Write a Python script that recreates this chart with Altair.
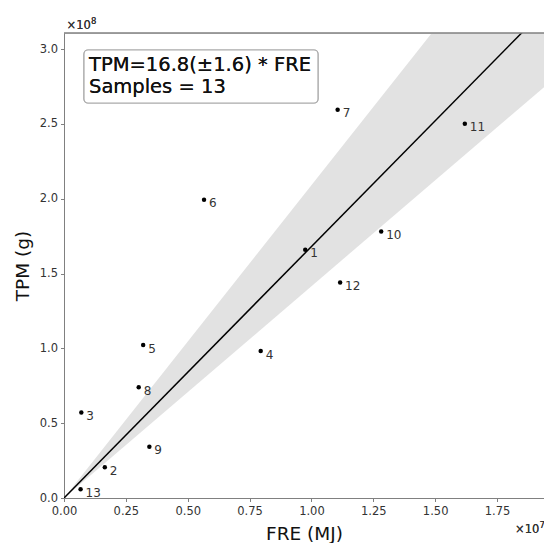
import altair as alt
import pandas as pd

# ---- data ----
sample_id = ["1", "2", "3", "4", "5", "6", "7", "8", "9", "10", "11", "12", "13"]
fre_mj = [9.75e6, 1.65e6, 0.70e6, 7.95e6, 3.20e6, 5.66e6, 11.06e6, 3.02e6, 3.45e6,
          12.82e6, 16.20e6, 11.16e6, 0.67e6]
tpm_g = [1.658e8, 0.206e8, 0.572e8, 0.982e8, 1.022e8, 1.993e8, 2.594e8, 0.740e8,
         0.343e8, 1.781e8, 2.500e8, 1.440e8, 0.058e8]

fit_slope = 16.8      # TPM = 16.8 * FRE
band_low = 14.15      # lower edge of shaded band (slope)
band_high = 20.9      # upper edge of shaded band (slope)
n_samples = 13

x_max = 1.94e7
y_max = 3.107e8
x_ticks = [0, 0.25e7, 0.5e7, 0.75e7, 1.0e7, 1.25e7, 1.5e7, 1.75e7]
y_ticks = [0, 0.5e8, 1.0e8, 1.5e8, 2.0e8, 2.5e8, 3.0e8]

FONT = "DejaVu Sans"
W, H = 480, 465

pts = pd.DataFrame({"FRE": fre_mj, "TPM": tpm_g, "id": sample_id})
fit_x = [0.0, x_max]
fit = pd.DataFrame({
    "FRE": fit_x,
    "TPM": [fit_slope * v for v in fit_x],
    "lo": [band_low * v for v in fit_x],
    "hi": [band_high * v for v in fit_x],
})

xscale = alt.Scale(domain=[0, x_max], nice=False, zero=False)
yscale = alt.Scale(domain=[0, y_max], nice=False, zero=False)

xaxis = alt.Axis(values=x_ticks, labelExpr="format(datum.value/1e7, '.2f')",
                 title="FRE (MJ)", titleFontSize=18.5, titleFont=FONT, titleFontWeight="normal",
                 titleColor="#111", titleY=41, titleBaseline="alphabetic",
                 labelFont=FONT, labelFontSize=11.5, labelColor="#333", labelPadding=4,
                 tickSize=3.5, tickColor="#808080", domainColor="#808080", grid=False,
                 labelFlush=False, labelOverlap=False)
yaxis = alt.Axis(values=y_ticks, labelExpr="format(datum.value/1e8, '.1f')",
                 title="TPM (g)", titleFontSize=18.5, titleFont=FONT, titleFontWeight="normal",
                 titleColor="#111", titleX=-36, titleY=H / 2, titleAngle=-90,
                 titleAlign="center", titleBaseline="alphabetic",
                 labelFont=FONT, labelFontSize=11.5, labelColor="#333", labelPadding=3,
                 tickSize=3.5, tickColor="#808080", domainColor="#808080", grid=False,
                 labelFlush=False, labelOverlap=False)

band = alt.Chart(fit).mark_area(color="#e2e2e2", opacity=1, clip=True).encode(
    x=alt.X("FRE:Q", scale=xscale, axis=xaxis),
    y=alt.Y("lo:Q", scale=yscale, axis=yaxis),
    y2="hi:Q",
)
line = alt.Chart(fit).mark_line(color="black", strokeWidth=1.5, clip=True).encode(
    x=alt.X("FRE:Q", scale=xscale),
    y=alt.Y("TPM:Q", scale=yscale),
)
dots = alt.Chart(pts).mark_circle(color="black", size=20, opacity=1).encode(
    x=alt.X("FRE:Q", scale=xscale),
    y=alt.Y("TPM:Q", scale=yscale),
)
labels = alt.Chart(pts).mark_text(align="left", baseline="alphabetic", dx=5, dy=7.5,
                                  font=FONT, fontSize=12, color="#333").encode(
    x=alt.X("FRE:Q", scale=xscale),
    y=alt.Y("TPM:Q", scale=yscale),
    text="id:N",
)

# top spine (right spine falls outside the window)
top_spine = alt.Chart(fit).mark_rule(color="#808080", strokeWidth=1).encode(
    x=alt.value(0), x2=alt.value(W), y=alt.value(0)
)

# annotation box
box = alt.Chart(fit).mark_rect(fill="white", stroke="#aaaaaa", strokeWidth=1.2,
                               cornerRadius=4).encode(
    x=alt.value(20), x2=alt.value(254), y=alt.value(17), y2=alt.value(70)
)
box_l1 = alt.Chart(fit).mark_text(align="left", baseline="alphabetic", font=FONT,
                                  fontSize=19.5, color="#111",
                                  text=f"TPM={fit_slope}(\u00b11.6) * FRE").encode(
    x=alt.value(25), y=alt.value(38)
)
box_l2 = alt.Chart(fit).mark_text(align="left", baseline="alphabetic", font=FONT,
                                  fontSize=19.5, color="#111",
                                  text=f"Samples = {n_samples}").encode(
    x=alt.value(25), y=alt.value(60)
)


def offset_text(x, y, exp):
    base = alt.Chart(fit).mark_text(align="left", baseline="alphabetic", font=FONT,
                                    fontSize=11.5, color="#333", text="\u00d710").encode(
        x=alt.value(x), y=alt.value(y)
    )
    sup = alt.Chart(fit).mark_text(align="left", baseline="alphabetic", font=FONT,
                                   fontSize=8.5, color="#333", text=exp).encode(
        x=alt.value(x + 24.5), y=alt.value(y - 4.5)
    )
    return base + sup


off_y = offset_text(2.5, -4.5, "8")
off_x = offset_text(451, H + 34.5, "7")

chart = alt.layer(band, line, top_spine, dots, labels, box, box_l1, box_l2, off_y, off_x).properties(
    width=W, height=H,
    autosize=alt.AutoSizeParams(type="none"),
    padding={"left": 64, "top": 33, "right": 0, "bottom": 45},
).configure_view(stroke=None).configure(background="white")

chart.save("out.html", embed_options={"renderer": "svg", "actions": False})
